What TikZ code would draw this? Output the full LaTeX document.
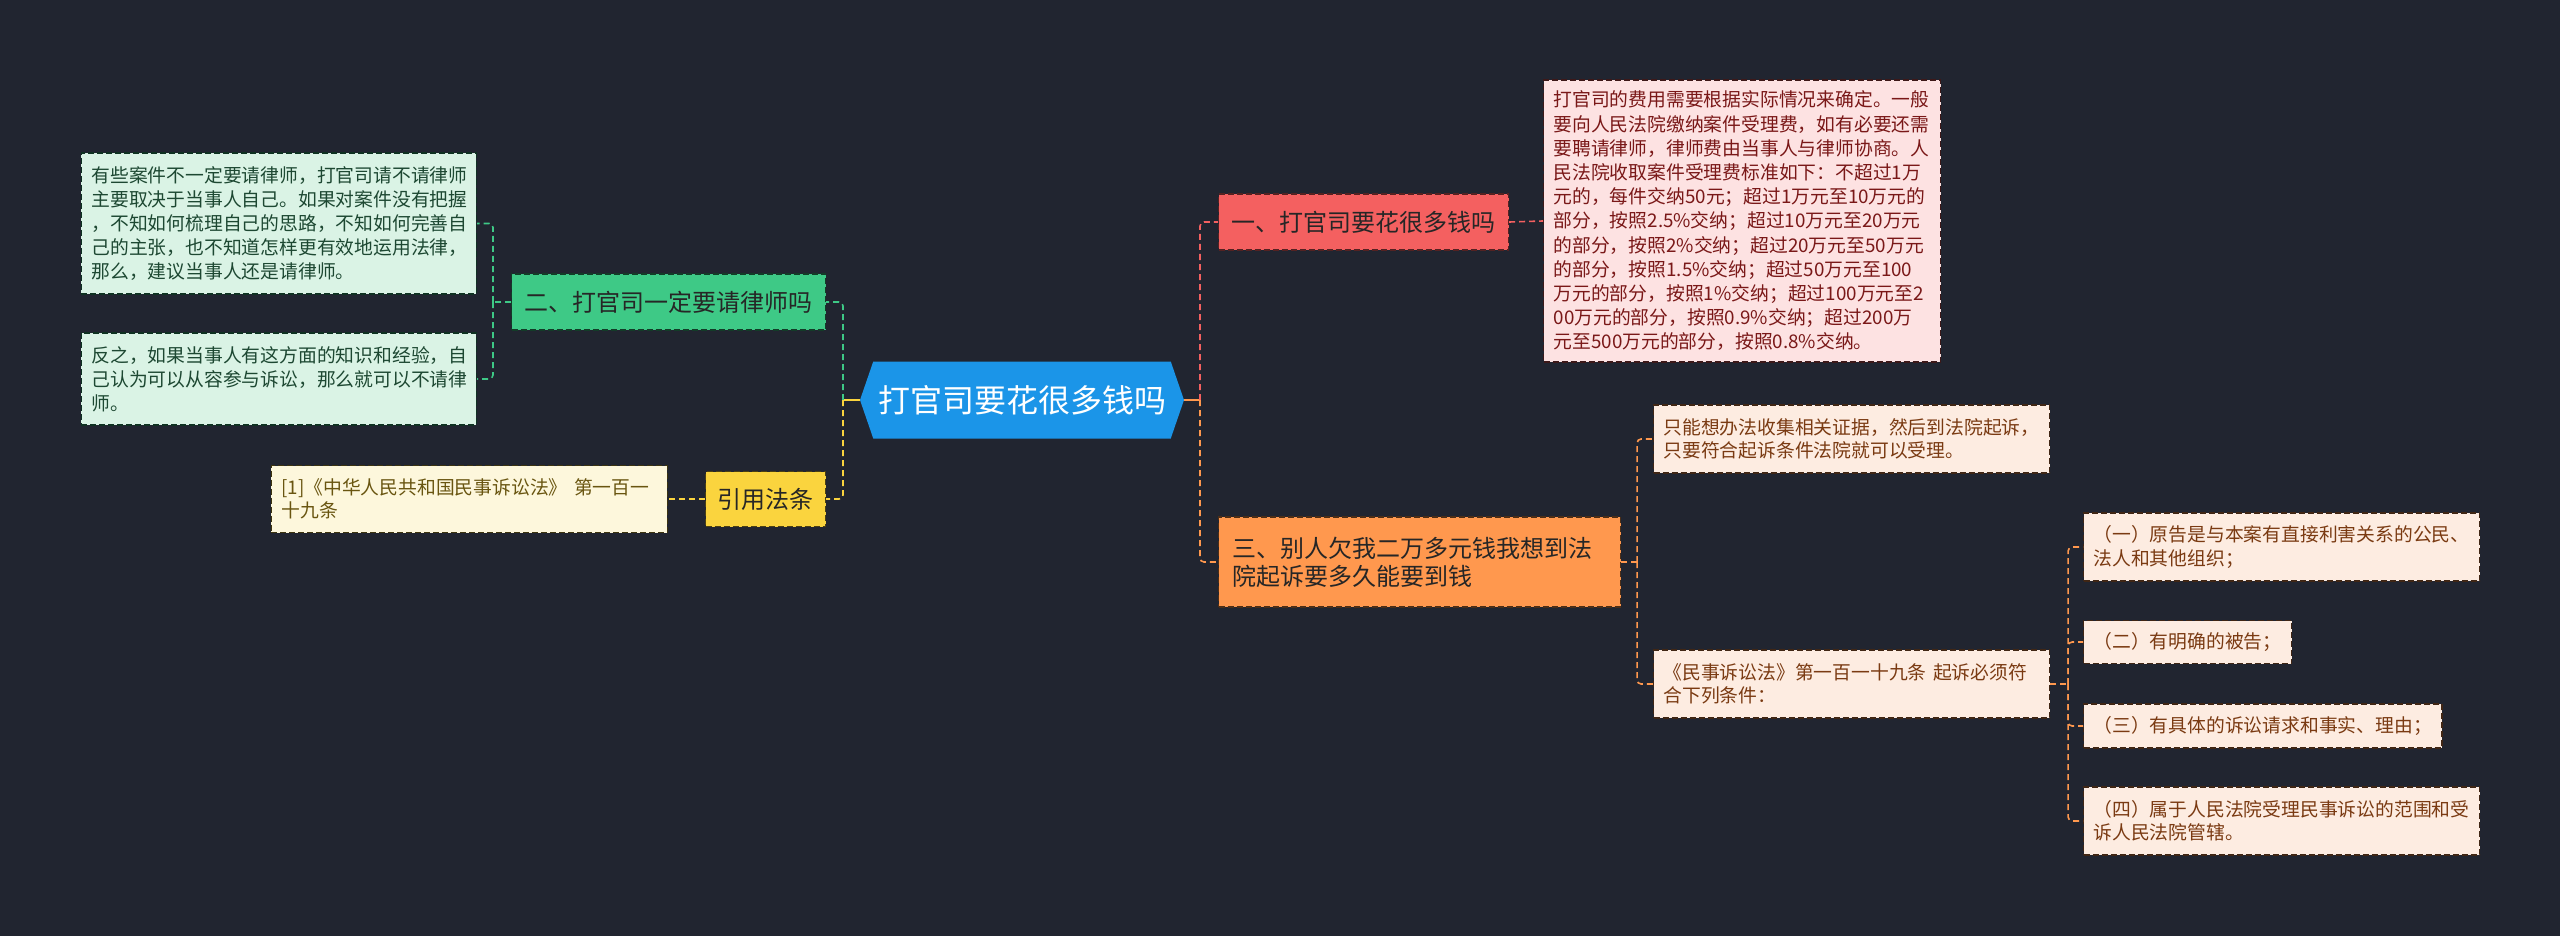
\documentclass[tikz,border=0pt]{standalone}
\usepackage{fontspec}
\setmainfont{Noto Sans CJK SC}
\usetikzlibrary{shapes.symbols}

\definecolor{bgc}{RGB}{33,37,48}
\definecolor{rootc}{RGB}{27,149,232}
\definecolor{redc}{RGB}{244,96,96}
\definecolor{redlt}{RGB}{253,226,226}
\definecolor{redtx}{RGB}{122,24,24}
\definecolor{grnc}{RGB}{62,201,134}
\definecolor{grnlt}{RGB}{218,243,229}
\definecolor{grntx}{RGB}{29,72,50}
\definecolor{orgc}{RGB}{255,152,78}
\definecolor{orglt}{RGB}{253,236,225}
\definecolor{orgtx}{RGB}{122,58,18}
\definecolor{ylwc}{RGB}{250,212,62}
\definecolor{ylwlt}{RGB}{253,247,220}
\definecolor{ylwtx}{RGB}{105,85,16}

\begin{document}
\begin{tikzpicture}[x=1pt, y=-1pt,
  box/.style={anchor=west, dash pattern=on 6pt off 3pt, line width=1.1pt, inner xsep=10pt, inner ysep=0pt, align=left},
  branch/.style={box, inner xsep=13pt, minimum height=56pt, text=black!85, font=\fontsize{24}{28}\selectfont},
  leaf/.style={box, font=\fontsize{18.8}{24.2}\selectfont},
  redbranch/.style={branch, fill=redc, draw=redc!35!black},
  redleaf/.style={leaf, fill=redlt, draw=redc!25!black, text=redtx},
  grnbranch/.style={branch, fill=grnc, draw=grnc!30!black},
  grnleaf/.style={leaf, fill=grnlt, draw=grnc!25!black, text=grntx},
  orgbranch/.style={branch, fill=orgc, draw=orgc!30!black},
  orgleaf/.style={leaf, fill=orglt, draw=orgc!25!black, text=orgtx, font=\fontsize{18.8}{23.4}\selectfont},
  ylwbranch/.style={branch, fill=ylwc, draw=ylwc!30!black},
  ylwleaf/.style={leaf, fill=ylwlt, draw=ylwc!25!black, text=ylwtx, font=\fontsize{18.8}{23.4}\selectfont},
  link/.style={line width=1.6pt, rounded corners=4pt},
  dlink/.style={link, dash pattern=on 6pt off 4pt}]

  % Background and page size
  \fill[bgc] (0,0) rectangle (2560,936);
  \useasboundingbox (0,0) rectangle (2560,936);

  % Central topic
  \node[signal, signal to=west and east, signal pointer angle=142, fill=rootc, text=white,
        minimum width=324pt, minimum height=77pt, inner xsep=4pt,
        font=\fontsize{32}{36}\selectfont] (root) at (1022,400) {打官司要花很多钱吗};

  % Branch one: costs
  \node[redbranch] (cost) at (1218,222) {一、打官司要花很多钱吗};
  \node[redleaf, text width=377pt, minimum height=282pt] (costtxt) at (1543,221)
    {打官司的费用需要根据实际情况来确定。一般\\
     要向人民法院缴纳案件受理费，如有必要还需\\
     要聘请律师，律师费由当事人与律师协商。人\\
     民法院收取案件受理费标准如下：不超过1万\\
     元的，每件交纳50元；超过1万元至10万元的\\
     部分，按照2.5\%交纳；超过10万元至20万元\\
     的部分，按照2\%交纳；超过20万元至50万元\\
     的部分，按照1.5\%交纳；超过50万元至100\\
     万元的部分，按照1\%交纳；超过100万元至2\\
     00万元的部分，按照0.9\%交纳；超过200万\\
     元至500万元的部分，按照0.8\%交纳。};

  % Branch three: suing for the debt
  \node[orgbranch, text width=374pt, inner xsep=14pt, minimum height=90pt] (debt) at (1218,562)
    {三、别人欠我二万多元钱我想到法\\院起诉要多久能要到钱};
  \node[orgleaf, text width=376pt, minimum height=68pt] (debta) at (1653,439)
    {只能想办法收集相关证据，然后到法院起诉，\\只要符合起诉条件法院就可以受理。};
  \node[orgleaf, text width=376pt, minimum height=68pt] (debtb) at (1653,684)
    {《民事诉讼法》第一百一十九条 起诉必须符\\合下列条件：};
  \node[orgleaf, text width=376pt, minimum height=68pt] (cond1) at (2083,547)
    {（一）原告是与本案有直接利害关系的公民、\\法人和其他组织；};
  \node[orgleaf, minimum height=43pt] (cond2) at (2083,642) {（二）有明确的被告；};
  \node[orgleaf, minimum height=44pt] (cond3) at (2083,726) {（三）有具体的诉讼请求和事实、理由；};
  \node[orgleaf, text width=376pt, minimum height=68pt] (cond4) at (2083,821)
    {（四）属于人民法院受理民事诉讼的范围和受\\诉人民法院管辖。};

  % Branch two: hiring a lawyer
  \node[grnbranch] (lawyer) at (511,302) {二、打官司一定要请律师吗};
  \node[grnleaf, anchor=east, text width=375pt, minimum height=141pt] (lawyera) at (477,223.5)
    {有些案件不一定要请律师，打官司请不请律师\\
     主要取决于当事人自己。如果对案件没有把握\\
     ，不知如何梳理自己的思路，不知如何完善自\\
     己的主张，也不知道怎样更有效地运用法律，\\
     那么，建议当事人还是请律师。};
  \node[grnleaf, anchor=east, text width=375pt, minimum height=92pt] (lawyerb) at (477,379)
    {反之，如果当事人有这方面的知识和经验，自\\
     己认为可以从容参与诉讼，那么就可以不请律\\
     师。};

  % Cited law
  \node[ylwbranch, inner xsep=12pt, minimum height=55pt] (cite) at (705,499) {引用法条};
  \node[ylwleaf, anchor=east, text width=376pt, minimum height=67pt] (citetxt) at (668,499)
    {[1]《中华人民共和国民事诉讼法》 第一百一\\十九条};

  % Connectors
  \coordinate (lj) at (843,400);
  \coordinate (rj) at (1200,400);
  \draw[link, ylwc] (root.west) -- (lj);
  \draw[dlink, grnc] (lj) |- (lawyer.east);
  \draw[dlink, ylwc] (lj) |- (cite.east);
  \draw[link, orgc] (root.east) -- (rj);
  \draw[dlink, redc] (rj) |- (cost.west);
  \draw[dlink, orgc] (rj) |- (debt.west);

  \draw[dlink, redc] (cost.east) -- (costtxt.west);
  \draw[dlink, ylwc] (cite.west) -- (citetxt.east);

  \draw[dlink, grnc] (lawyer.west) -- ++(-18,0) coordinate (gj);
  \draw[dlink, grnc] (gj) |- (lawyera.east);
  \draw[dlink, grnc] (gj) |- (lawyerb.east);

  \draw[dlink, orgc] (debt.east) -- ++(16,0) coordinate (oj);
  \draw[dlink, orgc] (oj) |- (debta.west);
  \draw[dlink, orgc] (oj) |- (debtb.west);

  \draw[dlink, orgc] (debtb.east) -- ++(18,0) coordinate (sj);
  \foreach \c in {cond1,cond2,cond3,cond4}
    \draw[dlink, orgc] (sj) |- (\c.west);
\end{tikzpicture}
\end{document}
